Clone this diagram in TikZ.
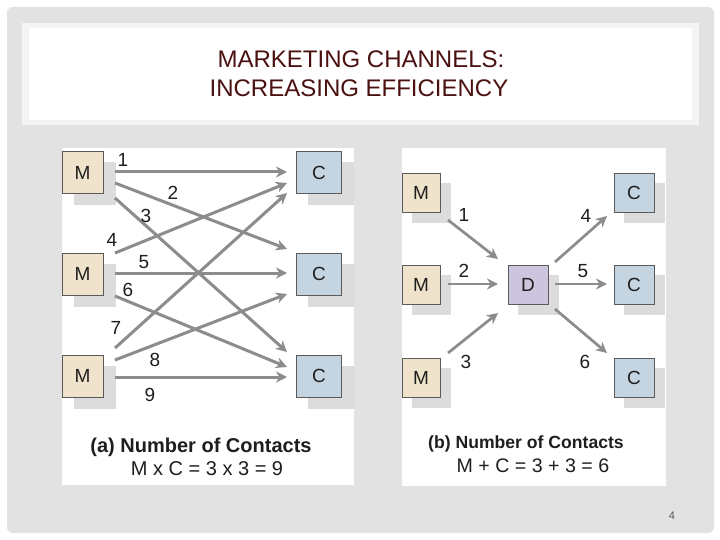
\documentclass[tikz,border=0pt]{standalone}
\usepackage{fontspec}
\setmainfont{Liberation Sans}
\usetikzlibrary{arrows.meta,shadows}
\definecolor{framegray}{HTML}{E2E2E2}
\definecolor{bandgray}{HTML}{F4F4F4}
\definecolor{shadegray}{HTML}{DCDCDC}
\definecolor{mfill}{HTML}{EFE4CB}
\definecolor{cfill}{HTML}{C4D4E0}
\definecolor{dfill}{HTML}{CDC5DE}
\definecolor{boxline}{HTML}{5A5A5A}
\definecolor{arrgray}{HTML}{8C8C8C}
\definecolor{inkgray}{HTML}{1E1E1E}
\definecolor{titlered}{HTML}{4B1111}
\begin{document}
\begin{tikzpicture}[x=1pt,y=-1pt,
    box/.style={draw=boxline,line width=0.9pt,inner sep=0pt,text=inkgray,
      font=\fontsize{19}{22}\selectfont},
    boxa/.style={box,minimum width=45pt,minimum height=42pt,
      general shadow={draw=shadegray,fill=shadegray,shadow xshift=12pt,shadow yshift=-11pt}},
    boxb/.style={box,minimum width=40pt,minimum height=39pt,
      general shadow={draw=shadegray,fill=shadegray,shadow xshift=10pt,shadow yshift=-10pt}},
    num/.style={text=inkgray,inner sep=0pt,font=\fontsize{19}{22}\selectfont},
    arr/.style={draw=arrgray,line width=3pt,-{Stealth[length=11pt,width=11pt,inset=3.5pt]}},
    arrb/.style={arr,line width=2.7pt},
    caption/.style={text=inkgray,inner sep=0pt,anchor=base}]
      \useasboundingbox (0,0) rectangle (720,540);
      \fill[white] (0,0) rectangle (720,540);
      \fill[framegray,rounded corners=6pt] (7,7) rectangle (714,533);
      \fill[bandgray] (22,23) rectangle (699,125);
      \fill[white] (29,28) rectangle (692,120);

      \node[caption,text=titlered,font=\fontsize{24}{28}\selectfont] (title1) at (361,68) {MARKETING CHANNELS:};
      \node[caption,text=titlered,font=\fontsize{24}{28}\selectfont] (title2) at (359,97) {INCREASING EFFICIENCY};

      \fill[white] (62,148) rectangle (354,485);
      \fill[white] (402,148) rectangle (666,486);

      \node[boxa,fill=mfill,minimum width=41pt] (Ma1) at (82.5,172.5) {M};
      \node[boxa,fill=mfill,minimum width=41pt] (Ma2) at (82.5,274) {M};
      \node[boxa,fill=mfill,minimum width=41pt] (Ma3) at (82.5,376) {M};
      \node[boxa,fill=cfill] (Ca1) at (319,172.5) {C};
      \node[boxa,fill=cfill] (Ca2) at (319,274) {C};
      \node[boxa,fill=cfill] (Ca3) at (319,376) {C};

      \coordinate (a1s) at (115,172); \coordinate (a1e) at (287,172);
      \coordinate (a2s) at (115,183); \coordinate (a2e) at (287,249);
      \coordinate (a3s) at (115,198); \coordinate (a3e) at (287,352);
      \coordinate (a4s) at (115,253); \coordinate (a4e) at (287,183);
      \coordinate (a5s) at (115,273); \coordinate (a5e) at (287,273);
      \coordinate (a6s) at (115,296); \coordinate (a6e) at (287,367);
      \coordinate (a7s) at (115,348); \coordinate (a7e) at (287,193);
      \coordinate (a8s) at (115,360); \coordinate (a8e) at (287,294);
      \coordinate (a9s) at (115,377); \coordinate (a9e) at (287,377);
      \draw[arr] (a1s) -- (a1e);
      \draw[arr] (a2s) -- (a2e);
      \draw[arr] (a3s) -- (a3e);
      \draw[arr] (a4s) -- (a4e);
      \draw[arr] (a5s) -- (a5e);
      \draw[arr] (a6s) -- (a6e);
      \draw[arr] (a7s) -- (a7e);
      \draw[arr] (a8s) -- (a8e);
      \draw[arr] (a9s) -- (a9e);

      \node[num] (na1) at (123,160) {1};
      \node[num] (na2) at (173,193) {2};
      \node[num] (na3) at (146,216) {3};
      \node[num] (na4) at (112,240) {4};
      \node[num] (na5) at (144,262) {5};
      \node[num] (na6) at (128,290) {6};
      \node[num] (na7) at (116,328) {7};
      \node[num] (na8) at (155,360) {8};
      \node[num] (na9) at (150,395) {9};

      \node[caption,font=\bfseries\fontsize{20}{24}\selectfont] (capa) at (201,452) {(a) Number of Contacts};
      \node[caption,font=\fontsize{20}{24}\selectfont] (suma) at (207,475) {M x C = 3 x 3 = 9};

      \node[boxb,fill=mfill,minimum width=38pt] (Mb1) at (421,192.5) {M};
      \node[boxb,fill=mfill,minimum width=38pt] (Mb2) at (421,285) {M};
      \node[boxb,fill=mfill,minimum width=38pt] (Mb3) at (421,377.5) {M};
      \node[boxb,fill=dfill] (Db) at (528,285) {D};
      \node[boxb,fill=cfill] (Cb1) at (634,192.5) {C};
      \node[boxb,fill=cfill] (Cb2) at (634,285) {C};
      \node[boxb,fill=cfill] (Cb3) at (634,377.5) {C};

      \coordinate (b1s) at (448,220); \coordinate (b1e) at (498,259);
      \coordinate (b2s) at (448,284); \coordinate (b2e) at (498,284);
      \coordinate (b3s) at (448,353); \coordinate (b3e) at (498,313);
      \coordinate (b4s) at (555,262); \coordinate (b4e) at (607,216);
      \coordinate (b5s) at (555,284); \coordinate (b5e) at (607,284);
      \coordinate (b6s) at (555,309); \coordinate (b6e) at (607,353);
      \draw[arrb] (b1s) -- (b1e);
      \draw[arrb] (b2s) -- (b2e);
      \draw[arrb] (b3s) -- (b3e);
      \draw[arrb] (b4s) -- (b4e);
      \draw[arrb] (b5s) -- (b5e);
      \draw[arrb] (b6s) -- (b6e);

      \node[num] (nb1) at (464,215) {1};
      \node[num] (nb2) at (464,271) {2};
      \node[num] (nb3) at (466,362) {3};
      \node[num] (nb4) at (586,216) {4};
      \node[num] (nb5) at (583,271) {5};
      \node[num] (nb6) at (585,362) {6};

      \node[caption,font=\bfseries\fontsize{17.6}{21}\selectfont] (capb) at (526,448) {(b) Number of Contacts};
      \node[caption,font=\fontsize{19.6}{23}\selectfont] (sumb) at (533,472) {M + C = 3 + 3 = 6};

      \node[caption,text=black!65,font=\fontsize{11}{13}\selectfont] (page) at (672,519) {4};
    \end{tikzpicture}
\end{document}
